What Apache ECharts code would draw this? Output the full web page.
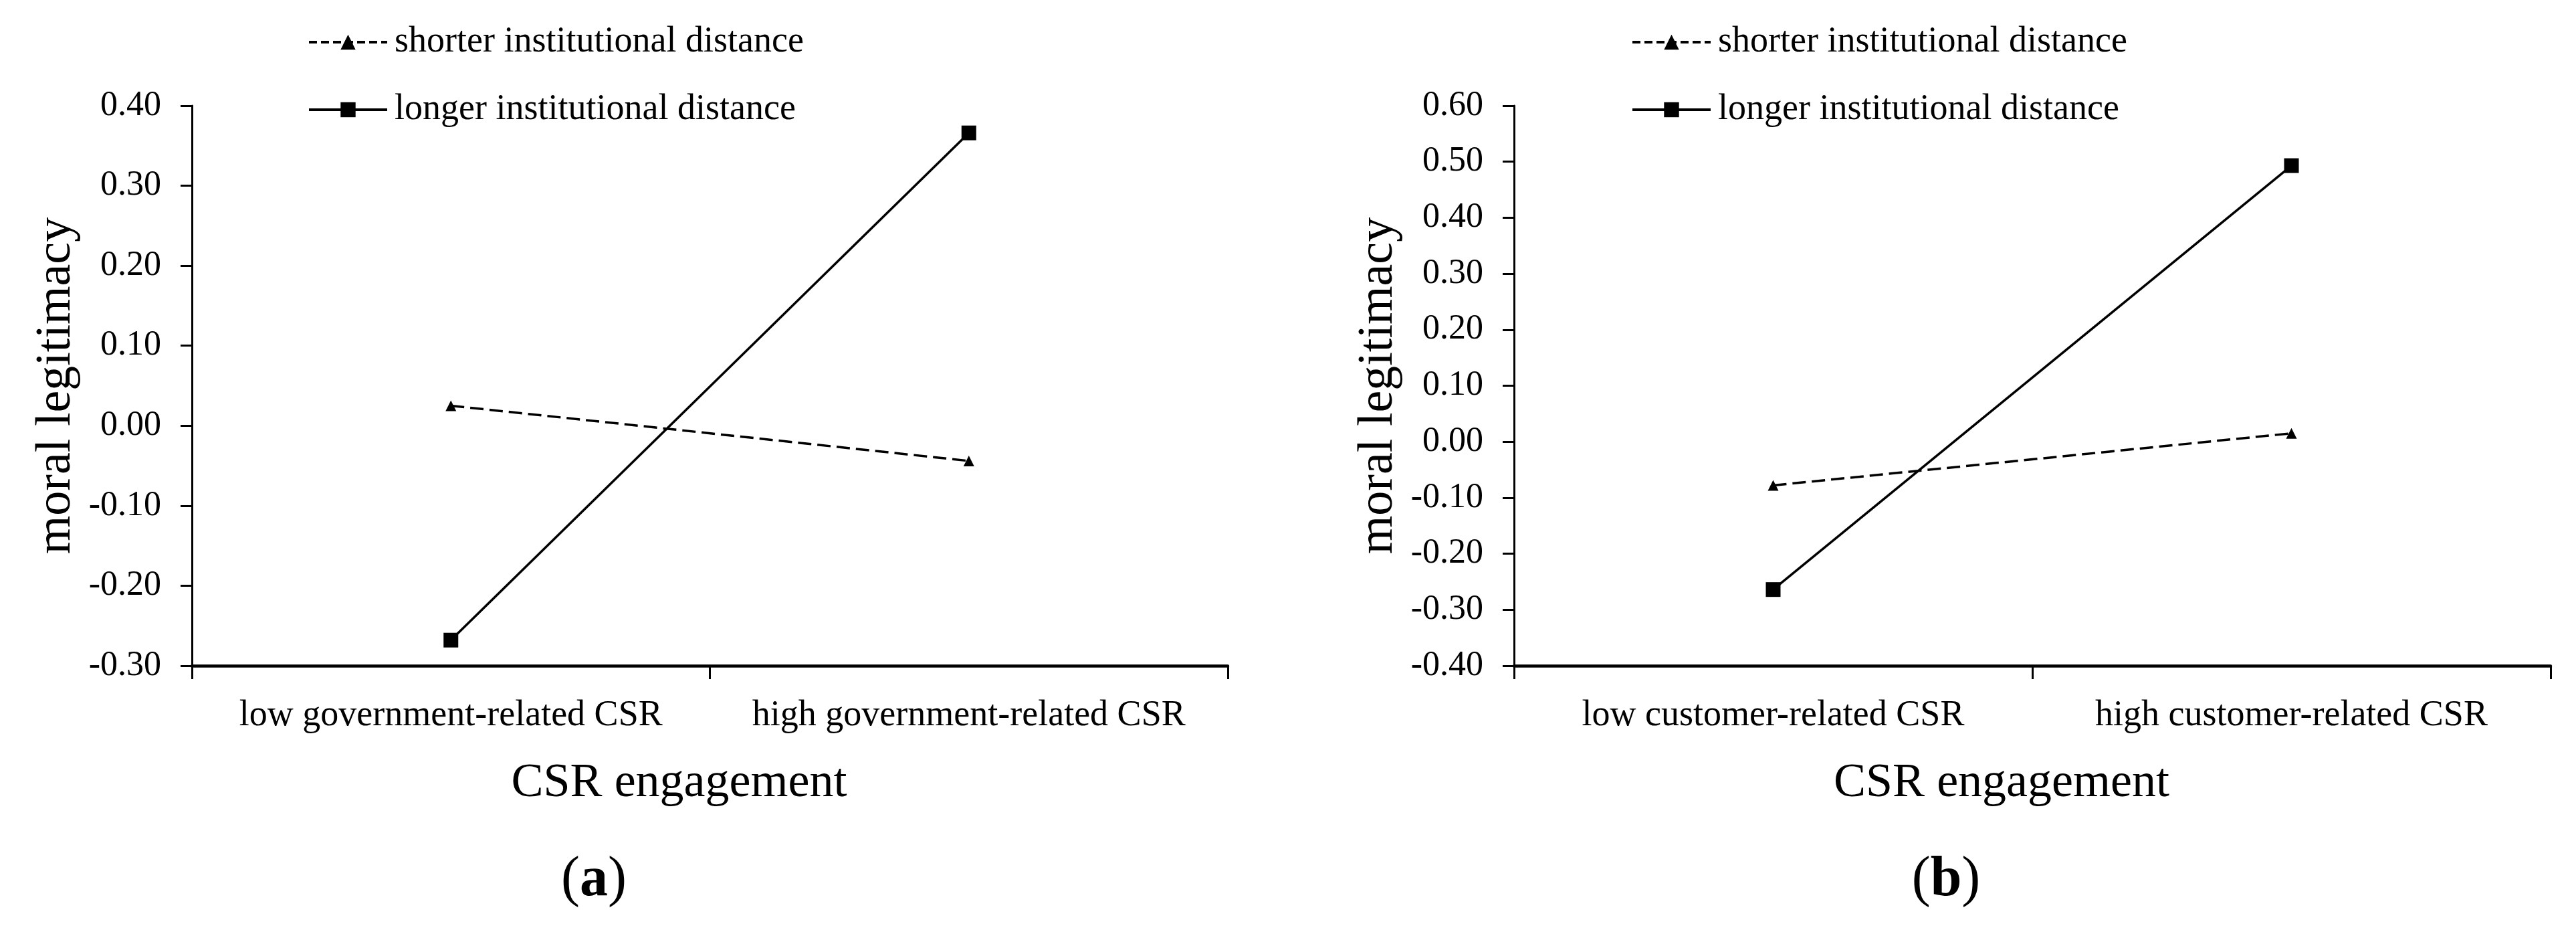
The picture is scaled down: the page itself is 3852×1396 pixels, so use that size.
<!DOCTYPE html>
<html>
<head>
<meta charset="utf-8">
<script src="https://cdn.jsdelivr.net/npm/echarts@6/dist/echarts.min.js"></script>
<style>
  html, body { margin: 0; padding: 0; background: #fff; }
  #chart { width: 3852px; height: 1396px; }
</style>
</head>
<body>
<div id="chart"></div>
<script>
// ---- data ----
const categoriesA = ['low government-related CSR', 'high government-related CSR'];
const categoriesB = ['low customer-related CSR', 'high customer-related CSR'];
const seriesNames = ['shorter institutional distance', 'longer institutional distance'];
const shorterA = [0.025, -0.044];
const longerA = [-0.268, 0.366];
const shorterB = [-0.078, 0.015];
const longerB = [-0.264, 0.493];
const yRangeA = [-0.3, 0.4];
const yRangeB = [-0.4, 0.6];
const yStep = 0.1;
const xTitle = 'CSR engagement';
const yTitle = 'moral legitimacy';
const panelLabels = ['a', 'b'];

const FONT = '"Liberation Serif", "Times New Roman", serif';
const chart = echarts.init(document.getElementById('chart'));

function xAxisFor(cats, gridIndex) {
  return {
    type: 'category', gridIndex: gridIndex, data: cats, boundaryGap: true,
    axisLine: { show: true, onZero: false, lineStyle: { color: '#000', width: 4.5 } },
    axisTick: { show: true, length: 20, inside: false, lineStyle: { color: '#000', width: 3 } },
    axisLabel: { color: '#000', fontFamily: FONT, fontSize: 54, margin: 48, interval: 0 },
    splitLine: { show: false },
    name: xTitle, nameLocation: 'middle', nameGap: 140,
    nameTextStyle: { color: '#000', fontFamily: FONT, fontSize: 72, padding: [0, 92, 0, 0] }
  };
}
function yAxisFor(range, gridIndex) {
  return {
    type: 'value', gridIndex: gridIndex, min: range[0], max: range[1], interval: yStep,
    axisLine: { show: true, onZero: false, lineStyle: { color: '#000', width: 3 } },
    axisTick: { show: true, length: 17, inside: false, lineStyle: { color: '#000', width: 3 } },
    axisLabel: { color: '#000', fontFamily: FONT, fontSize: 52, margin: 46,
      formatter: v => (Math.round(v * 100) / 100).toFixed(2) },
    splitLine: { show: false },
    name: yTitle, nameLocation: 'middle', nameGap: 165, nameRotate: 90,
    nameTextStyle: { color: '#000', fontFamily: FONT, fontSize: 74 }
  };
}
function seriesFor(shorter, longer, idx) {
  return [
    { name: seriesNames[0], type: 'line', xAxisIndex: idx, yAxisIndex: idx, data: shorter,
      symbol: 'triangle', symbolSize: 16, showSymbol: true,
      lineStyle: { color: '#000', width: 3.5, type: [20, 9] },
      itemStyle: { color: '#000' } },
    { name: seriesNames[1], type: 'line', xAxisIndex: idx, yAxisIndex: idx, data: longer,
      symbol: 'rect', symbolSize: 22, showSymbol: true,
      lineStyle: { color: '#000', width: 3.5, type: 'solid' },
      itemStyle: { color: '#000' } }
  ];
}
function legendAt(left) {
  return {
    left: left, top: 31, orient: 'vertical', itemWidth: 117, itemHeight: 28, itemGap: 47,
    data: [
      { name: seriesNames[0], lineStyle: { type: [12, 6], width: 4, color: '#000' } },
      { name: seriesNames[1], lineStyle: { type: 'solid', width: 4, color: '#000' } }
    ],
    selectedMode: false,
    textStyle: { color: '#000', fontFamily: FONT, fontSize: 54, lineHeight: 54, padding: [0, 0, 0, 6] }
  };
}
function caption(x, letter) {
  return {
    type: 'text', x: x, y: 1316,
    style: {
      text: '{p|(}{b|' + letter + '}{p|)}',
      rich: {
        p: { fontFamily: FONT, fontSize: 84, fill: '#000' },
        b: { fontFamily: FONT, fontSize: 84, fontWeight: 'bold', fill: '#000' }
      },
      align: 'center', verticalAlign: 'middle', textAlign: 'center', textVerticalAlign: 'middle'
    }
  };
}

chart.setOption({
  animation: false,
  backgroundColor: '#fff',
  grid: [
    { left: 287, top: 158, width: 1549, height: 837 },
    { left: 2264, top: 158, width: 1550, height: 837 }
  ],
  xAxis: [xAxisFor(categoriesA, 0), xAxisFor(categoriesB, 1)],
  yAxis: [yAxisFor(yRangeA, 0), yAxisFor(yRangeB, 1)],
  legend: [legendAt(455), legendAt(2434)],
  series: [].concat(seriesFor(shorterA, longerA, 0), seriesFor(shorterB, longerB, 1)),
  graphic: [caption(888, panelLabels[0]), caption(2910, panelLabels[1])]
});
</script>
</body>
</html>
